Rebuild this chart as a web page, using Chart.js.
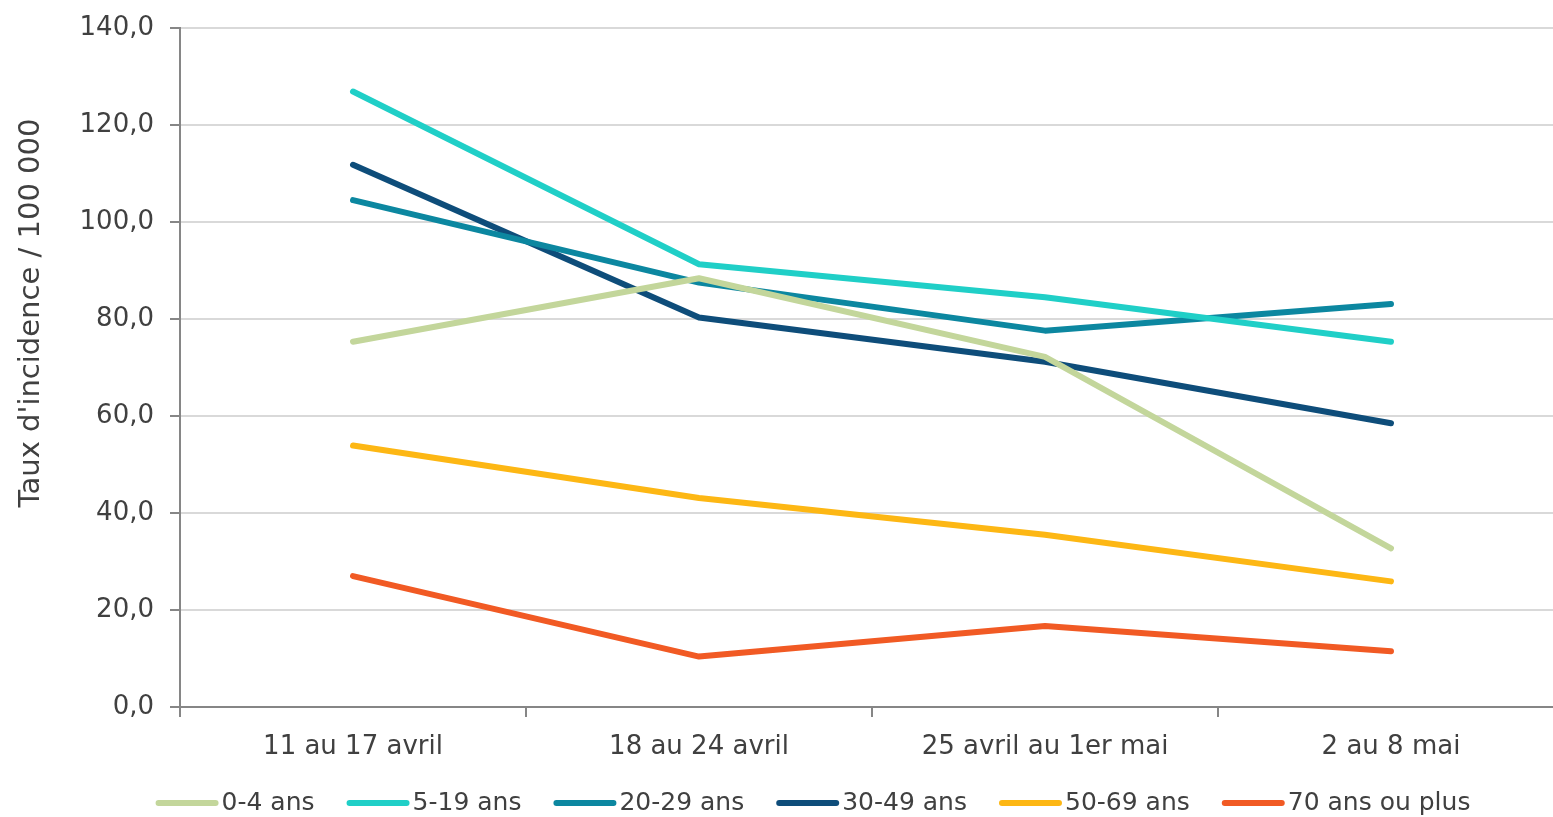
<!DOCTYPE html>
<html lang="fr">
<head>
  <meta charset="UTF-8">
  <title>Taux d'incidence par âge</title>
  <script src="https://cdn.jsdelivr.net/npm/chart.js@4"></script>
  <style>
    html, body {
      margin: 0;
      padding: 0;
      background: #fff;
      overflow: hidden;
    }
    /* le graphique dépasse un peu à droite, comme l'original */
    .chart-box {
      position: relative;
      width: 1626px;
      height: 817px;
    }
  </style>
</head>
<body>
  <div class="chart-box">
    <canvas id="tauxChart"></canvas>
  </div>

  <script>
  // données
  const semaines = ['11 au 17 avril', '18 au 24 avril', '25 avril au 1er mai', '2 au 8 mai'];
  const ans0_4 = [75.3, 88.4, 72.2, 32.7];
  const ans5_19 = [126.9, 91.3, 84.5, 75.3];
  const ans20_29 = [104.5, 87.5, 77.6, 83.1];
  const ans30_49 = [111.8, 80.3, 71.2, 58.5];
  const ans50_69 = [53.9, 43.1, 35.5, 25.9];
  const ans70plus = [27.0, 10.4, 16.7, 11.5];
  const yTicks = [0, 20, 40, 60, 80, 100, 120, 140];

  const police = 'DejaVu Sans';
  const texte = '#404040';
  const titreY = "Taux d'incidence / 100 000";

  function serie(label, data, couleur) {
    return {
      label: label,
      data: data,
      borderColor: couleur,
      backgroundColor: couleur,
      borderWidth: 6,
      borderCapStyle: 'round',
      borderJoinStyle: 'round',
      pointRadius: 0,
      tension: 0
    };
  }

  // légende et titre de l'axe dessinés à la main
  const legendePlugin = {
    id: 'legende',
    afterDraw(chart) {
      const ctx = chart.ctx;
      const trait = 63, ecart = 3, entre = 32;
      const y = 803;
      ctx.save();
      ctx.font = '25px "' + police + '"';
      ctx.textBaseline = 'middle';
      const items = chart.data.datasets.map(ds => ({
        ds: ds,
        w: ctx.measureText(ds.label).width
      }));
      let total = 0;
      items.forEach((it, i) => { total += trait + ecart + it.w + (i ? entre : 0); });
      let x = chart.width / 2 - total / 2;
      items.forEach(it => {
        ctx.strokeStyle = it.ds.borderColor;
        ctx.lineWidth = 6;
        ctx.lineCap = 'round';
        ctx.beginPath();
        ctx.moveTo(x + 3, y);
        ctx.lineTo(x + trait - 3, y);
        ctx.stroke();
        ctx.fillStyle = texte;
        ctx.fillText(it.ds.label, x + trait + ecart, y);
        x += trait + ecart + it.w + entre;
      });

      // titre vertical, un peu plus haut que le centre
      ctx.translate(31, 313);
      ctx.rotate(-Math.PI / 2);
      ctx.font = '29px "' + police + '"';
      ctx.textAlign = 'center';
      ctx.fillText(titreY, 0, 0);
      ctx.restore();
    }
  };

  const ctx = document.getElementById('tauxChart').getContext('2d');
  new Chart(ctx, {
    type: 'line',
    data: {
      labels: semaines,
      datasets: [
        serie('0-4 ans', ans0_4, '#c3d69b'),
        serie('5-19 ans', ans5_19, '#20cfc7'),
        serie('20-29 ans', ans20_29, '#0c87a0'),
        serie('30-49 ans', ans30_49, '#0e4d7a'),
        serie('50-69 ans', ans50_69, '#fdb714'),
        serie('70 ans ou plus', ans70plus, '#f15a24')
      ]
    },
    options: {
      responsive: true,
      maintainAspectRatio: false,
      animation: false,
      layout: {
        padding: { top: 28, right: 62, bottom: 50, left: 0 }
      },
      plugins: {
        legend: { display: false },
        tooltip: { enabled: false }
      },
      scales: {
        x: {
          offset: true,
          grid: {
            offset: true,
            drawOnChartArea: false,
            drawTicks: true,
            tickLength: 10,
            color: '#868686',
            lineWidth: 2
          },
          border: { color: '#868686', width: 2 },
          ticks: {
            padding: 15,
            color: texte,
            font: { family: police, size: 26 }
          },
          afterFit: s => { s.height = 60; }
        },
        y: {
          min: 0,
          max: 140,
          afterBuildTicks: s => { s.ticks = yTicks.map(v => ({ value: v })); },
          grid: {
            color: '#d9d9d9',
            lineWidth: 2,
            tickColor: '#868686',
            tickLength: 10
          },
          border: { color: '#868686', width: 2 },
          ticks: {
            padding: 16,
            color: texte,
            font: { family: police, size: 26, lineHeight: 0.6 },
            callback: v => v.toFixed(1).replace('.', ',')
          },
          afterFit: s => { s.width = 180; }
        }
      }
    },
    plugins: [legendePlugin]
  });
  </script>
</body>
</html>
